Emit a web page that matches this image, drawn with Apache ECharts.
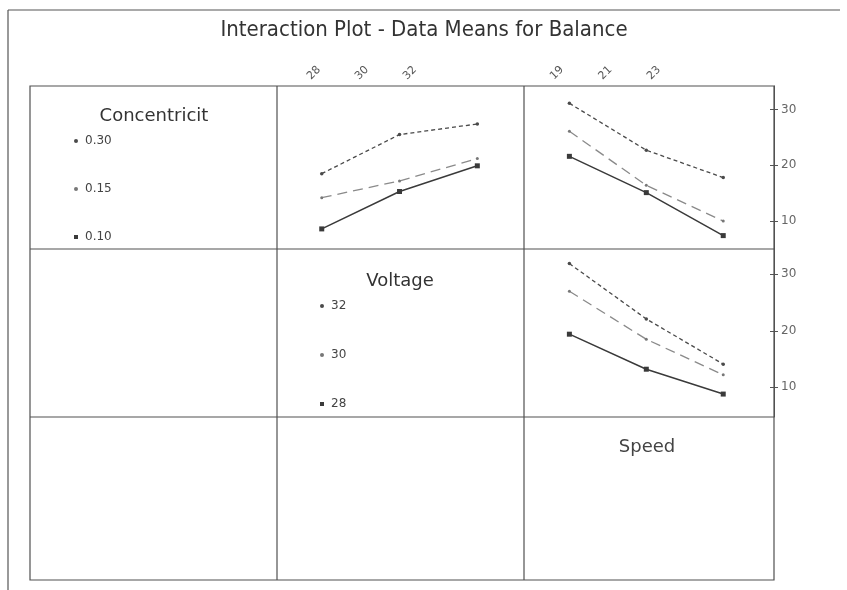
<!DOCTYPE html>
<html>
<head>
<meta charset="utf-8">
<script src="https://cdn.jsdelivr.net/npm/echarts@6/dist/echarts.min.js"></script>
<style>
  html, body { margin: 0; padding: 0; background: #fff; }
  #chart { width: 847px; height: 590px; }
</style>
</head>
<body>
<div id="chart"></div>
<script>
// Factor levels
const voltageLevels = [28, 30, 32];
const speedLevels = [19, 21, 23];
const concentricityNames = ['0.30', '0.15', '0.10'];
const voltageNames = ['32', '30', '28'];
const yTicks = [10, 20, 30];

// Mean balance: concentricity lines across voltage
const concByVoltage030 = [18.5, 25.5, 27.4];
const concByVoltage015 = [14.2, 17.2, 21.2];
const concByVoltage010 = [8.6, 15.3, 19.9];

// Mean balance: concentricity lines across speed
const concBySpeed030 = [31.1, 22.7, 17.8];
const concBySpeed015 = [26.1, 16.4, 10.0];
const concBySpeed010 = [21.6, 15.1, 7.4];

// Mean balance: voltage lines across speed
const voltBySpeed32 = [31.9, 22.1, 14.1];
const voltBySpeed30 = [27.0, 18.5, 12.2];
const voltBySpeed28 = [19.4, 13.2, 8.8];

const FONT = 'DejaVu Sans';
const FONT_C = 'DejaVu Sans Condensed';
const pair = (xs, ys) => xs.map((x, i) => [x, ys[i]]);

// Line styles per level (high, middle, low)
const styles = [
  { line: { color: '#4a4a4a', width: 1.3, type: [4, 3] }, symbol: 'circle', size: 3.5, color: '#4a4a4a' },
  { line: { color: '#8a8a8a', width: 1.3, type: [10, 6] }, symbol: 'circle', size: 3, color: '#777' },
  { line: { color: '#3a3a3a', width: 1.5, type: 'solid' }, symbol: 'rect', size: 5, color: '#3a3a3a' }
];

function lineSeries(name, xi, yi, data, s) {
  return {
    name: name, type: 'line', xAxisIndex: xi, yAxisIndex: yi,
    data: data, symbol: s.symbol, symbolSize: s.size,
    lineStyle: s.line, itemStyle: { color: s.color },
    emphasis: { disabled: true }, animation: false, silent: true
  };
}

const series = [
  lineSeries('0.30', 0, 0, pair(voltageLevels, concByVoltage030), styles[0]),
  lineSeries('0.15', 0, 0, pair(voltageLevels, concByVoltage015), styles[1]),
  lineSeries('0.10', 0, 0, pair(voltageLevels, concByVoltage010), styles[2]),
  lineSeries('0.30', 1, 1, pair(speedLevels, concBySpeed030), styles[0]),
  lineSeries('0.15', 1, 1, pair(speedLevels, concBySpeed015), styles[1]),
  lineSeries('0.10', 1, 1, pair(speedLevels, concBySpeed010), styles[2]),
  lineSeries('32', 2, 2, pair(speedLevels, voltBySpeed32), styles[0]),
  lineSeries('30', 2, 2, pair(speedLevels, voltBySpeed30), styles[1]),
  lineSeries('28', 2, 2, pair(speedLevels, voltBySpeed28), styles[2])
];

const hiddenAxis = { show: false };
const labelAxis = (grid, lv) => ({
  type: 'value', gridIndex: grid, position: 'top',
  min: lv[0], max: lv[lv.length - 1], interval: lv[1] - lv[0],
  axisLine: { show: false }, axisTick: { show: false }, splitLine: { show: false },
  axisLabel: { rotate: 45, margin: 6, color: '#555', fontFamily: FONT, fontSize: 11 }
});
const rightAxis = (grid, min, max) => ({
  type: 'value', gridIndex: grid, position: 'right', min: min, max: max,
  axisLine: { show: true, lineStyle: { color: '#555' } },
  axisTick: { show: true, length: 4, lineStyle: { color: '#555' }, customValues: yTicks },
  axisLabel: { color: '#666', fontFamily: FONT, fontSize: 12, margin: 7, customValues: yTicks },
  splitLine: { show: false }
});
const innerTickAxis = (grid, min, max) => ({
  type: 'value', gridIndex: grid, position: 'right', min: min, max: max,
  axisLine: { show: false },
  axisTick: { show: true, inside: true, length: 4, lineStyle: { color: '#555' }, customValues: yTicks },
  axisLabel: { show: false }, splitLine: { show: false }
});

const legendText = { color: '#444', fontFamily: FONT, fontSize: 12, padding: [0, 0, 0, 2] };
const legendIcon = (name, s) => ({
  name: name, icon: s.symbol === 'rect' ? 'rect' : 'circle',
  itemStyle: { color: s.color }
});
const headText = (size, color) => ({ fontFamily: FONT, fontWeight: 'normal', fontSize: size, color: color });

const option = {
  backgroundColor: '#fff',
  animation: false,
  title: [
    { text: 'Interaction Plot - Data Means for Balance', left: 424, top: 19, textAlign: 'center', padding: 0,
      textStyle: { fontFamily: FONT_C, fontWeight: 'normal', fontSize: 22, color: '#333' } },
    { text: 'Concentricit', left: 154, top: 107, textAlign: 'center', padding: 0, textStyle: headText(18, '#333') },
    { text: 'Voltage', left: 400, top: 272, textAlign: 'center', padding: 0, textStyle: headText(18, '#333') },
    { text: 'Speed', left: 647, top: 438, textAlign: 'center', padding: 0, textStyle: headText(18, '#444') }
  ],
  legend: [
    { orient: 'vertical', left: 74, top: 135, padding: 0, itemWidth: 4, itemHeight: 4, itemGap: 36,
      selectedMode: false, textStyle: legendText,
      data: concentricityNames.map((n, i) => legendIcon(n, styles[i])) },
    { orient: 'vertical', left: 320, top: 300, padding: 0, itemWidth: 4, itemHeight: 4, itemGap: 37,
      selectedMode: false, textStyle: legendText,
      data: voltageNames.map((n, i) => legendIcon(n, styles[i])) }
  ],
  grid: [
    { left: 277, top: 86, width: 247, height: 163 },
    { left: 524, top: 86, width: 250, height: 163 },
    { left: 524, top: 249, width: 250, height: 168 },
    { left: 309, top: 84, width: 96, height: 10 },
    { left: 552, top: 84, width: 97, height: 10 }
  ],
  xAxis: [
    Object.assign({ type: 'value', gridIndex: 0, min: 26.85, max: 33.2 }, hiddenAxis),
    Object.assign({ type: 'value', gridIndex: 1, min: 17.82, max: 24.32 }, hiddenAxis),
    Object.assign({ type: 'value', gridIndex: 2, min: 17.82, max: 24.32 }, hiddenAxis),
    labelAxis(3, voltageLevels),
    labelAxis(4, speedLevels)
  ],
  yAxis: [
    Object.assign({ type: 'value', gridIndex: 0, min: 5, max: 34.2 }, hiddenAxis),
    rightAxis(1, 5, 34.2),
    rightAxis(2, 4.74, 34.48),
    Object.assign({ type: 'value', gridIndex: 3 }, hiddenAxis),
    Object.assign({ type: 'value', gridIndex: 4 }, hiddenAxis),
    innerTickAxis(1, 5, 34.2),
    innerTickAxis(2, 4.74, 34.48)
  ],
  graphic: [
    // page frame
    { type: 'line', shape: { x1: 8, y1: 10, x2: 840, y2: 10 }, style: { stroke: '#555', lineWidth: 1.2 }, silent: true },
    { type: 'line', shape: { x1: 8, y1: 10, x2: 8, y2: 590 }, style: { stroke: '#555', lineWidth: 1.2 }, silent: true },
    // 3 x 3 matrix of cells
    { type: 'rect', shape: { x: 30, y: 86, width: 744, height: 494 }, style: { fill: 'none', stroke: '#505050', lineWidth: 1.2 }, silent: true, z: 10 },
    { type: 'line', shape: { x1: 277, y1: 86, x2: 277, y2: 580 }, style: { stroke: '#505050', lineWidth: 1.2 }, silent: true, z: 10 },
    { type: 'line', shape: { x1: 524, y1: 86, x2: 524, y2: 580 }, style: { stroke: '#505050', lineWidth: 1.2 }, silent: true, z: 10 },
    { type: 'line', shape: { x1: 30, y1: 249, x2: 774, y2: 249 }, style: { stroke: '#505050', lineWidth: 1.2 }, silent: true, z: 10 },
    { type: 'line', shape: { x1: 30, y1: 417, x2: 774, y2: 417 }, style: { stroke: '#505050', lineWidth: 1.2 }, silent: true, z: 10 }
  ],
  series: series
};

const chart = echarts.init(document.getElementById('chart'), null, { renderer: 'canvas' });
chart.setOption(option);
</script>
</body>
</html>
